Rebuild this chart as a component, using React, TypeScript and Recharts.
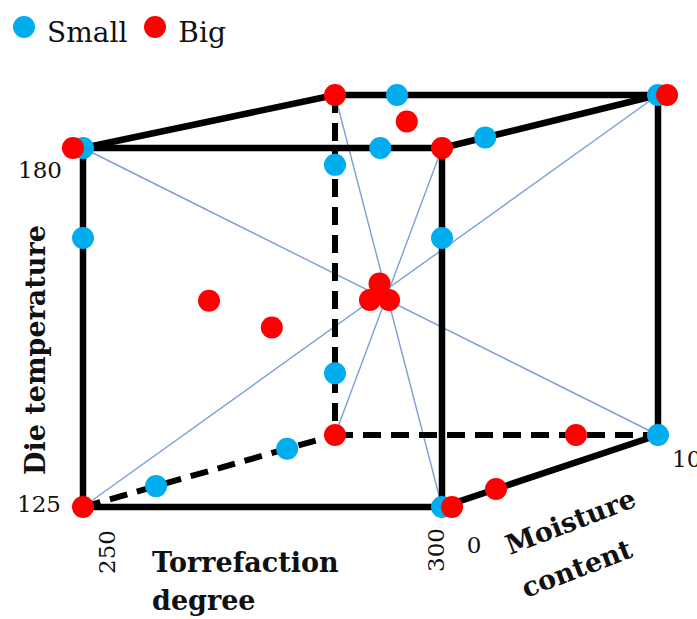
import { ScatterChart, Scatter, XAxis, YAxis, Legend } from 'recharts';

// design points: [torrefaction degree, moisture content, die temperature]
const smallPoints: [number, number, number][] = [
  [250, 0, 180], [250, 0, 166.2], [250, 10, 168.7], [250, 10, 135],
  [259.6, 10, 180], [291.4, 0, 180], [300, 2, 180], [300, 10, 180],
  [300, 0, 166.2], [300, 10, 125], [300, 0, 125], [250, 8.1, 125], [250, 2.9, 125],
];
const bigPoints: [number, number, number][] = [
  [248.6, 0, 180], [250, 10, 180], [279, 5, 180], [300, 0, 180], [301.4, 10, 180],
  [275, 5, 154.5], [273.6, 5, 151.9], [276.4, 5, 151.9], [250, 5, 151.8],
  [276.3, 0, 152.5], [250, 10, 125], [287.3, 10, 125], [250, 0, 125],
  [301.4, 0, 125], [300, 2.5, 125],
];
const seriesNames = ['Small', 'Big'];
const torrTicks = [250, 300];
const moistTicks = [0, 10];
const tempTicks = [125, 180];

const TORR = [250, 300];
const MOIST = [0, 10];
const TEMP = [125, 180];

const W = 697;
const H = 619;
const BLUE = '#00adef';
const RED = '#ff0000';
const FONT = '"DejaVu Serif", serif';

// screen position of the cube's front (moisture 0) and back (moisture 10) faces
const FRONT = { x0: 83, x1: 442, yb: 507, yt: 148 };
const BACK = { x0: 335, x1: 658, yb: 435, yt: 95 };

function project(torr: number, moist: number, temp: number) {
  const t = (torr - TORR[0]) / (TORR[1] - TORR[0]);
  const m = (moist - MOIST[0]) / (MOIST[1] - MOIST[0]);
  const d = (temp - TEMP[0]) / (TEMP[1] - TEMP[0]);
  const fx = FRONT.x0 + (FRONT.x1 - FRONT.x0) * t;
  const fy = FRONT.yb + (FRONT.yt - FRONT.yb) * d;
  const bx = BACK.x0 + (BACK.x1 - BACK.x0) * t;
  const by = BACK.yb + (BACK.yt - BACK.yb) * d;
  return { x: fx + (bx - fx) * m, y: fy + (by - fy) * m };
}

const corner = (a: number, b: number, c: number) =>
  project(TORR[a], MOIST[b], TEMP[c]);

const solidEdges = [
  [corner(0, 0, 0), corner(1, 0, 0)],
  [corner(0, 0, 1), corner(1, 0, 1)],
  [corner(0, 0, 0), corner(0, 0, 1)],
  [corner(1, 0, 0), corner(1, 0, 1)],
  [corner(0, 0, 1), corner(0, 1, 1)],
  [corner(0, 1, 1), corner(1, 1, 1)],
  [corner(1, 0, 1), corner(1, 1, 1)],
  [corner(1, 1, 1), corner(1, 1, 0)],
  [corner(1, 0, 0), corner(1, 1, 0)],
];
const dashedEdges = [
  [corner(0, 1, 1), corner(0, 1, 0)],
  [corner(0, 1, 0), corner(1, 1, 0)],
  [corner(0, 0, 0), corner(0, 1, 0)],
];
const diagonals = [
  [corner(0, 0, 1), corner(1, 1, 0)],
  [corner(0, 1, 1), corner(1, 0, 0)],
  [corner(1, 1, 1), corner(0, 0, 0)],
  [corner(1, 0, 1), corner(0, 1, 0)],
];

const smallData = smallPoints.map(p => project(p[0], p[1], p[2]));
const bigData = bigPoints.map(p => project(p[0], p[1], p[2]));

type Lab = { x: number; y: number; text: string; rot: number; anchor: string; size: number; bold: boolean };
const at = (p: { x: number; y: number }, dx: number, dy: number) => ({ x: p.x + dx, y: p.y + dy });

const labels: Lab[] = [
  { ...at(project(torrTicks[0], 0, 125), 32, 45), text: String(torrTicks[0]), rot: -90, anchor: 'middle', size: 23, bold: false },
  { ...at(project(torrTicks[1], 0, 125), 2, 43), text: String(torrTicks[1]), rot: -90, anchor: 'middle', size: 23, bold: false },
  { ...at(project(300, moistTicks[0], 125), 32, 46), text: String(moistTicks[0]), rot: 0, anchor: 'middle', size: 23, bold: false },
  { ...at(project(300, moistTicks[1], 125), 14, 32), text: String(moistTicks[1]), rot: 0, anchor: 'start', size: 23, bold: false },
  { ...at(project(250, 0, tempTicks[0]), -22, 5), text: String(tempTicks[0]), rot: 0, anchor: 'end', size: 23, bold: false },
  { ...at(project(250, 0, tempTicks[1]), -21, 30), text: String(tempTicks[1]), rot: 0, anchor: 'end', size: 23, bold: false },
  { x: 152, y: 572, text: 'Torrefaction', rot: 0, anchor: 'start', size: 27, bold: true },
  { x: 152, y: 610, text: 'degree', rot: 0, anchor: 'start', size: 27, bold: true },
  { x: 510, y: 555, text: 'Moisture', rot: -21, anchor: 'start', size: 27, bold: true },
  { x: 526, y: 598, text: 'content', rot: -21, anchor: 'start', size: 27, bold: true },
  { x: 45, y: 350, text: 'Die temperature', rot: -90, anchor: 'middle', size: 27, bold: true },
];

const noDot = () => <g />;

const renderLabel = (p: any) => {
  const l: Lab = p.payload;
  return (
    <text
      x={p.cx}
      y={p.cy}
      textAnchor={l.anchor as any}
      transform={l.rot ? `rotate(${l.rot}, ${p.cx}, ${p.cy})` : undefined}
      fontFamily={FONT}
      fontSize={l.size}
      fontWeight={l.bold ? 'bold' : 'normal'}
      fill="#111"
    >
      {l.text}
    </text>
  );
};

const renderLegend = (props: any) => {
  const payload = props.payload || [];
  const items = seriesNames
    .map(n => payload.find((e: any) => e.value === n))
    .filter(Boolean);
  return (
    <div style={{ display: 'flex', alignItems: 'center', fontFamily: FONT, fontSize: 28, lineHeight: '30px' }}>
      {items.map((e: any, i: number) => (
        <div key={i} style={{ display: 'flex', alignItems: 'center', marginRight: 17 }}>
          <svg width={22} height={22} style={{ position: 'relative', top: -6, marginRight: 12 }}>
            <circle cx={11} cy={11} r={11} fill={e.color} />
          </svg>
          <span style={{ color: '#111' }}>{e.value}</span>
        </div>
      ))}
    </div>
  );
};

export default function App() {
  return (
    <div style={{ position: 'absolute', left: 0, top: 0, background: '#fff' }}>
      <ScatterChart width={W} height={H} margin={{ top: 0, right: 0, bottom: 0, left: 0 }}>
        <XAxis type="number" dataKey="x" domain={[0, W]} hide allowDataOverflow />
        <YAxis type="number" dataKey="y" domain={[0, H]} reversed hide allowDataOverflow />
        <Legend
          layout="horizontal"
          verticalAlign="middle"
          align="center"
          content={renderLegend}
          wrapperStyle={{ left: 13, top: 18, width: 300 }}
        />
        {diagonals.map((seg, i) => (
          <Scatter key={`dg${i}`} data={seg} legendType="none" shape={noDot} isAnimationActive={false}
            line={{ stroke: '#7ba0d8', strokeWidth: 1.4 }} />
        ))}
        {solidEdges.map((seg, i) => (
          <Scatter key={`se${i}`} data={seg} legendType="none" shape={noDot} isAnimationActive={false}
            line={{ stroke: '#000', strokeWidth: 6.5, strokeLinecap: 'round' }} />
        ))}
        {dashedEdges.map((seg, i) => (
          <Scatter key={`de${i}`} data={seg} legendType="none" shape={noDot} isAnimationActive={false}
            line={{ stroke: '#000', strokeWidth: 6, strokeDasharray: '18 10' }} />
        ))}
        <Scatter name="Small" data={smallData} fill={BLUE} isAnimationActive={false}
          shape={(p: any) => <circle cx={p.cx} cy={p.cy} r={11} fill={BLUE} />} />
        <Scatter name="Big" data={bigData} fill={RED} isAnimationActive={false}
          shape={(p: any) => <circle cx={p.cx} cy={p.cy} r={11} fill={RED} />} />
        <Scatter data={labels} legendType="none" isAnimationActive={false} shape={renderLabel} />
      </ScatterChart>
    </div>
  );
}
